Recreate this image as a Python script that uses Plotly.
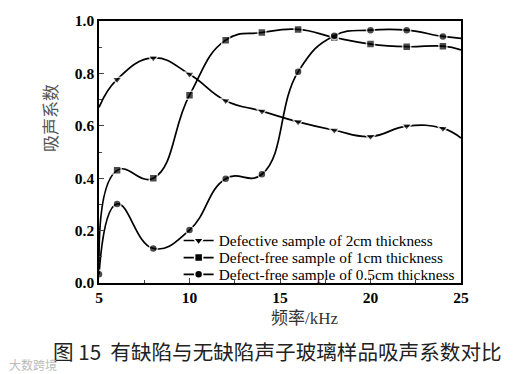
import plotly.graph_objects as go

freq = [5, 6, 8, 10, 12, 14, 16, 18, 20, 22, 24, 25]
defective_2cm = [0.67, 0.777, 0.859, 0.797, 0.696, 0.656, 0.615, 0.583, 0.559, 0.599, 0.590, 0.553]
defect_free_1cm = [0.08, 0.43, 0.40, 0.717, 0.927, 0.956, 0.968, 0.937, 0.912, 0.902, 0.904, 0.89]
defect_free_05cm = [0.033, 0.302, 0.132, 0.202, 0.398, 0.415, 0.806, 0.944, 0.965, 0.965, 0.941, 0.934]
names = ["Defective sample of 2cm thickness",
         "Defect-free sample of 1cm thickness",
         "Defect-free sample of 0.5cm thickness"]
symbols = ["triangle-down", "square", "circle"]
marker_sizes = [9, 8, 8]
x_ticks = [5, 10, 15, 20, 25]
y_ticks = [0.0, 0.2, 0.4, 0.6, 0.8, 1.0]
show_first = [False, False, True]
legend_ids = ["legend", "legend2", "legend3"]
legend_rows_y = [0.162, 0.097, 0.033]

serif = "Liberation Serif, Times New Roman, Noto Sans CJK SC, serif"

fig = go.Figure()
for ys, nm, sym, ms, sf in zip([defective_2cm, defect_free_1cm, defect_free_05cm],
                               names, symbols, marker_sizes, show_first):
    n = len(ys)
    sizes = [ms] * n
    lw = [1.5] * n
    sizes[-1] = 0
    lw[-1] = 0
    if not sf:
        sizes[0] = 0
        lw[0] = 0
    fig.add_trace(go.Scatter(
        x=freq, y=ys, name=nm, mode="lines+markers", showlegend=False,
        line=dict(color="black", width=1.7, shape="spline", smoothing=1.3),
        marker=dict(symbol=sym, size=sizes, color="black",
                    line=dict(color="white", width=lw)),
    ))

# legend entries (no data of their own)
for nm, sym, ms, lg in zip(names, symbols, marker_sizes, legend_ids):
    fig.add_trace(go.Scatter(
        x=[None], y=[None], name=nm, mode="lines+markers", legend=lg,
        line=dict(color="black", width=1.7),
        marker=dict(symbol=sym, size=ms, color="black", line=dict(color="white", width=1.5)),
    ))

legend_style = dict(x=0.22, xanchor="left", yanchor="middle",
                    bgcolor="rgba(0,0,0,0)", font=dict(size=15.3, family=serif),
                    itemwidth=30, borderwidth=0)
fig.update_layout(
    width=527, height=374,
    margin=dict(l=99, r=66, t=17, b=91),
    paper_bgcolor="white", plot_bgcolor="white",
    font=dict(family=serif, color="black"),
    legend=dict(y=legend_rows_y[0], **legend_style),
    legend2=dict(y=legend_rows_y[1], **legend_style),
    legend3=dict(y=legend_rows_y[2], **legend_style),
    showlegend=True,
)
fig.update_xaxes(range=[5, 25], tickvals=x_ticks, ticktext=[f"<b>{v}</b>" for v in x_ticks],
                 ticks="inside", ticklen=5, tickwidth=1.2, showgrid=False, zeroline=False,
                 showline=True, linecolor="black", linewidth=1.5, mirror=True,
                 tickfont=dict(size=15.5, family=serif),
                 minor=dict(ticks="inside", ticklen=3, dtick=2.5, tickwidth=1, showgrid=False))
fig.update_yaxes(range=[0, 1.0], tickvals=y_ticks, ticktext=[f"<b>{v:.1f}</b>" for v in y_ticks],
                 ticks="inside", ticklen=5, tickwidth=1.2, showgrid=False, zeroline=False,
                 showline=True, linecolor="black", linewidth=1.5, mirror=True,
                 tickfont=dict(size=15.5, family=serif),
                 minor=dict(ticks="inside", ticklen=3, dtick=0.1, tickwidth=1, showgrid=False))

fig.add_annotation(text="吸声系数", xref="paper", yref="paper", x=-0.135, xanchor="center",
                   y=0.63, yanchor="middle",
                   textangle=-90, showarrow=False,
                   font=dict(size=17, family="Noto Sans CJK SC", color="#555"))
fig.add_annotation(text="频率/kHz", xref="paper", yref="paper", x=0.57, xanchor="center",
                   y=-0.09, yanchor="top", showarrow=False,
                   font=dict(size=17, family=serif, color="#333"))
fig.add_annotation(text="图 15  有缺陷与无缺陷声子玻璃样品吸声系数对比", xref="paper", yref="paper",
                   x=0.5, xanchor="center", y=-0.195, yanchor="top", showarrow=False,
                   xshift=-3,
                   font=dict(size=20.6, family="Noto Sans CJK SC", color="#222"))
fig.add_annotation(text="大数跨境", xref="paper", yref="paper", x=-0.255, xanchor="left",
                   y=-0.27, yanchor="top", showarrow=False,
                   font=dict(size=12, family="Noto Sans CJK SC", color="#bbb"))

fig.write_html("out.html", config={"displayModeBar": False},
               post_script="document.body.style.margin='0';")
